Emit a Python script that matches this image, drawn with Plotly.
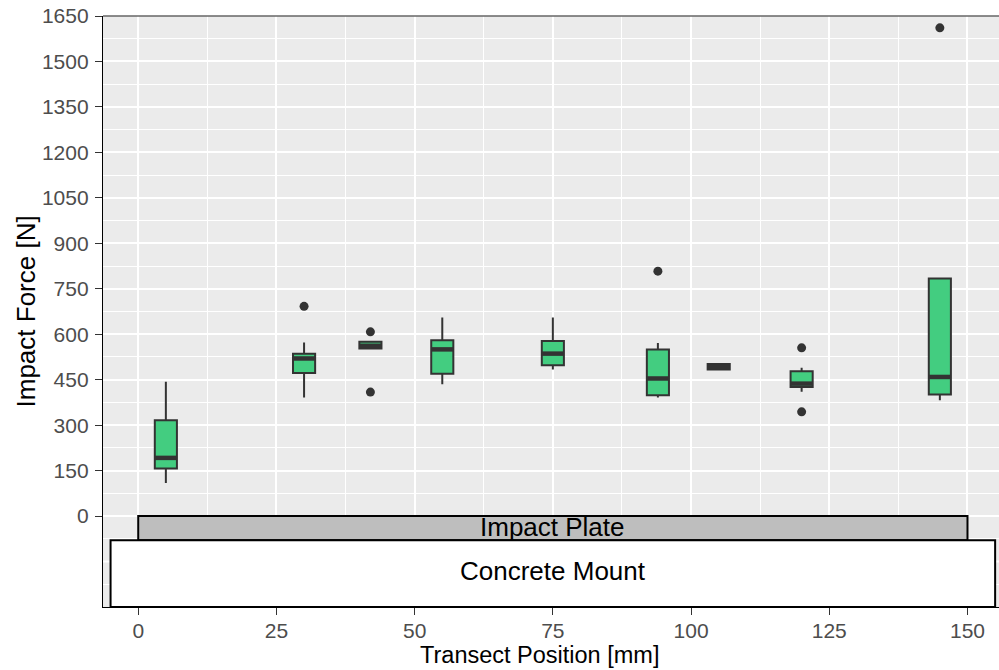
import plotly.graph_objects as go

# ---- data ----
positions = [5, 30, 42, 55, 75, 94, 105, 120, 145]
lower_whisker = [109, 391, 550, 435, 484, 391, 480, 410, 382]
q1 = [157, 472, 553, 470, 498, 399, 484, 426, 401]
median = [192, 520, 562, 550, 536, 454, 492, 437, 459]
q3 = [316, 536, 575, 580, 578, 550, 502, 478, 784]
upper_whisker = [443, 573, 578, 655, 655, 571, 505, 489, 784]

outlier_x = [30, 42, 42, 94, 120, 120, 145]
outlier_y = [692, 608, 409, 808, 555, 344, 1611]

plate_x = [0, 150]
plate_y = [-80, 0]
mount_x = [-5, 155]
mount_y = [-300, -80]

y_ticks = list(range(0, 1651, 150))
x_ticks = [0, 25, 50, 75, 100, 125, 150]

BOX_W = 4
FILL = "#43CD80"
DARK = "#333333"
FONT = "Liberation Sans, Arial, sans-serif"

fig = go.Figure()

fig.add_trace(go.Box(
    x=positions, q1=q1, median=median, q3=q3,
    lowerfence=lower_whisker, upperfence=upper_whisker,
    width=BOX_W, fillcolor=FILL, line=dict(color=DARK, width=2),
    whiskerwidth=0, boxpoints=False, showlegend=False, hoverinfo="skip",
))

# thick median lines (ggplot fatten)
mx, my = [], []
for p, m in zip(positions, median):
    mx += [p - BOX_W / 2, p + BOX_W / 2, None]
    my += [m, m, None]
fig.add_trace(go.Scatter(x=mx, y=my, mode="lines",
                         line=dict(color=DARK, width=4.5),
                         showlegend=False, hoverinfo="skip"))

fig.add_trace(go.Scatter(x=outlier_x, y=outlier_y, mode="markers",
                         marker=dict(color=DARK, size=9),
                         showlegend=False, hoverinfo="skip"))

# impact plate & concrete mount
fig.add_shape(type="rect", xref="x", yref="y",
              x0=plate_x[0], x1=plate_x[1], y0=plate_y[0], y1=plate_y[1],
              fillcolor="#BEBEBE", line=dict(color="black", width=2))
fig.add_shape(type="rect", xref="x", yref="y",
              x0=mount_x[0], x1=mount_x[1], y0=mount_y[0], y1=mount_y[1],
              fillcolor="white", line=dict(color="black", width=2))
fig.add_annotation(x=sum(plate_x) / 2, y=sum(plate_y) / 2, text="Impact Plate",
                   showarrow=False, yshift=1,
                   font=dict(family=FONT, size=26, color="black"))
fig.add_annotation(x=sum(mount_x) / 2, y=sum(mount_y) / 2, text="Concrete Mount",
                   showarrow=False, yshift=3,
                   font=dict(family=FONT, size=26, color="black"))

# axis titles
fig.add_annotation(xref="paper", yref="paper", x=(539.5 - 103) / 896, y=-0.082,
                   text="Transect Position [mm]", showarrow=False,
                   xanchor="center", yanchor="middle",
                   font=dict(family=FONT, size=23.5, color="black"))
fig.add_annotation(xref="paper", yref="paper", x=(25 - 103) / 896, y=0.5,
                   text="Impact Force [N]", showarrow=False, textangle=-90,
                   xanchor="center", yanchor="middle",
                   font=dict(family=FONT, size=26, color="black"))

# major gridline below zero (no label)
fig.add_shape(type="line", xref="paper", yref="y", x0=0, x1=1, y0=-150, y1=-150,
              line=dict(color="white", width=2), layer="below")
# top border line
fig.add_shape(type="line", xref="paper", yref="paper", x0=0, x1=1, y0=1, y1=1,
              line=dict(color="#666666", width=1.5))

fig.update_layout(
    width=999, height=670,
    margin=dict(l=103, r=0, t=16, b=63),
    paper_bgcolor="white", plot_bgcolor="#EBEBEB",
    font=dict(family=FONT, color="black"),
    showlegend=False,
)
fig.update_xaxes(
    range=[-6.37, 155.7], tickmode="array", tickvals=x_ticks,
    ticks="outside", ticklen=7, tickwidth=1.3, tickcolor=DARK,
    tickfont=dict(size=21, color="#4D4D4D", family=FONT),
    showgrid=True, gridcolor="white", gridwidth=2,
    minor=dict(dtick=12.5, tick0=0, showgrid=True, gridcolor="white", gridwidth=1, ticks=""),
    showline=True, linecolor="black", linewidth=1.3, zeroline=False,
    automargin=False, ticklabelstandoff=-2, ticklabeloverflow="allow",
)
fig.update_yaxes(
    range=[-300, 1650], tickmode="array", tickvals=y_ticks,
    ticks="outside", ticklen=7, tickwidth=1.3, tickcolor=DARK,
    tickfont=dict(size=21, color="#4D4D4D", family=FONT),
    showgrid=True, gridcolor="white", gridwidth=2,
    minor=dict(dtick=75, tick0=0, showgrid=True, gridcolor="white", gridwidth=1, ticks=""),
    showline=True, linecolor="black", linewidth=1.3, zeroline=False,
    automargin=False, ticklabelstandoff=2, ticklabeloverflow="allow",
)

# remove the page's default body margin so the figure fills the window exactly
fig.write_html("out.html", config={"displayModeBar": False},
               post_script="document.body.style.margin='0';document.body.style.overflow='hidden';")
